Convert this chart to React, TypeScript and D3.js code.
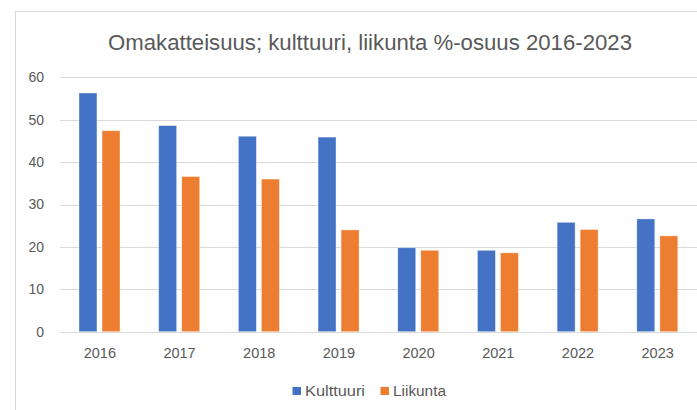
import React from "react";
import * as d3 from "d3";

const years = ["2016", "2017", "2018", "2019", "2020", "2021", "2022", "2023"];
const seriesNames = ["Kulttuuri", "Liikunta"];
const kulttuuri = [56.3, 48.6, 46.1, 45.9, 19.8, 19.2, 25.8, 26.6];
const liikunta = [47.4, 36.6, 36.0, 24.0, 19.2, 18.6, 24.1, 22.6];
const colors = ["#4472C4", "#ED7D31"];
const yTicks = [0, 10, 20, 30, 40, 50, 60];
const title = "Omakatteisuus; kulttuuri, liikunta %-osuus 2016-2023";

export default function App() {
  const W = 697, H = 410;
  const x = d3.scaleBand<string>().domain(years).range([60, 697.5]).padding(0);
  const xs = d3.scaleBand<string>().domain(seriesNames).range([19, 60]).paddingInner(0.22).paddingOuter(0);
  const y = d3.scaleLinear().domain([0, 60]).range([331.7, 77.3]);
  const series = [kulttuuri, liikunta];
  const font = "'Liberation Sans', Arial, sans-serif";
  const textColor = "#595959";
  const legendX = [292.5, 380.5];
  const legendLen = [60, 53];
  return (
    <svg width={W} height={H} style={{ position: "absolute", left: 0, top: 0, background: "#fff" }} fontFamily={font}>
      <rect x={15.5} y={11.5} width={W} height={H} fill="#fff" stroke="#d9d9d9" strokeWidth={1} />
      <text x={370} y={50} textAnchor="middle" fontSize={22.5} fill={textColor} textLength={524} lengthAdjust="spacingAndGlyphs">{title}</text>
      {yTicks.map(t => (
        <g key={t}>
          <line x1={60} x2={697} y1={Math.round(y(t)) + 0.5} y2={Math.round(y(t)) + 0.5} stroke="#d9d9d9" strokeWidth={1} />
          <text x={44} y={y(t)} dy="0.35em" textAnchor="end" fontSize={14} fill={textColor}>{t}</text>
        </g>
      ))}
      {years.map((yr, i) => (
        <g key={yr}>
          {series.map((s, j) => (
            <rect key={j}
              x={(x(yr) as number) + (xs(seriesNames[j]) as number)}
              y={y(s[i])}
              width={xs.bandwidth()}
              height={y(0) - y(s[i])}
              fill={colors[j]}
              stroke="#ffffff" strokeOpacity={0.5} strokeWidth={0.75}
            />
          ))}
          <text x={(x(yr) as number) + x.bandwidth() / 2} y={353} dy="0.35em" textAnchor="middle" fontSize={14.5} fill={textColor}>{yr}</text>
        </g>
      ))}
      <line x1={60} x2={697} y1={Math.round(y(0)) + 0.5} y2={Math.round(y(0)) + 0.5} stroke="#d9d9d9" strokeWidth={1} />
      {seriesNames.map((n, j) => (
        <g key={n}>
          <rect x={legendX[j]} y={387} width={8.5} height={8} fill={colors[j]} />
          <text x={legendX[j] + 12.5} y={391} dy="0.35em" fontSize={14} fill={textColor} textLength={legendLen[j]} lengthAdjust="spacingAndGlyphs">{n}</text>
        </g>
      ))}
    </svg>
  );
}
